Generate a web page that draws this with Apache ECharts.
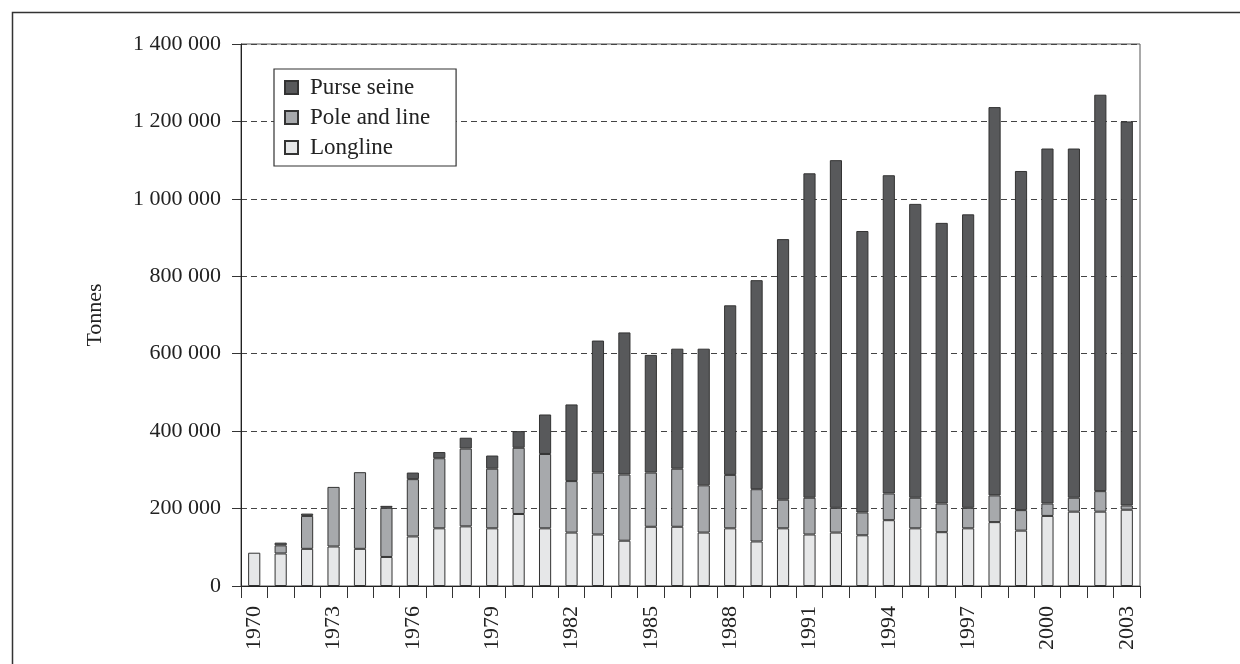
<!DOCTYPE html>
<html>
<head>
<meta charset="utf-8">
<script src="https://cdn.jsdelivr.net/npm/echarts@6/dist/echarts.min.js"></script>
<style>
html,body{margin:0;padding:0;background:#fff;}
#chart{width:1240px;height:664px;}
</style>
</head>
<body>
<div id="chart"></div>
<script>
var years = ['1970','1971','1972','1973','1974','1975','1976','1977','1978','1979','1980','1981','1982','1983','1984','1985','1986','1987','1988','1989','1990','1991','1992','1993','1994','1995','1996','1997','1998','1999','2000','2001','2002','2003'];
var longline = [86000,84000,96000,102000,96000,75000,128000,149000,154000,149000,186000,149000,138000,133000,117000,153000,153000,138000,149000,115000,149000,133000,138000,131000,170000,149000,139000,149000,165000,143000,181000,192000,192000,197000];
var poleAndLine = [0,21000,85000,154000,198000,127000,148000,181000,201000,154000,171000,192000,133000,160000,171000,140000,150000,122000,138000,135000,74000,95000,64000,59000,69000,79000,74000,53000,69000,53000,32000,36000,53000,11000];
var purseSeine = [0,7000,6000,0,0,5000,17000,16000,28000,34000,43000,102000,198000,341000,367000,304000,310000,353000,438000,540000,673000,838000,898000,727000,822000,759000,725000,758000,1003000,876000,917000,902000,1024000,992000];
var yTicks = [0,200000,400000,600000,800000,1000000,1200000,1400000];

var font = '"Liberation Serif","Times New Roman",serif';
function fmt(v){ return String(v).replace(/\B(?=(\d{3})+(?!\d))/g,' '); }

var chart = echarts.init(document.getElementById('chart'), null, {renderer:'canvas'});
function barSeries(name, data, color){
  return {
    name: name, type: 'bar', stack: 'total',
    data: data.map(function(v){ return v === 0 ? '-' : v; }),
    barWidth: '46%',
    itemStyle: {color: color, borderColor: '#333', borderWidth: 1},
    emphasis: {disabled: true}
  };
}
chart.setOption({
  animation: false,
  backgroundColor: '#fff',
  graphic: [{
    type: 'rect', left: 10, top: 10, shape: {width: 1300, height: 700},
    style: {fill: 'none', stroke: '#333', lineWidth: 1.5}, silent: true, z: -1
  }],
  grid: {left: 241, right: 100, top: 44, bottom: 78, show: true, borderColor: '#555', borderWidth: 1, backgroundColor: 'transparent'},
  legend: {
    orient: 'vertical', left: 274, top: 69,
    data: ['Purse seine','Pole and line','Longline'],
    itemWidth: 13, itemHeight: 13, itemGap: 7,
    padding: [7, 26, 7, 10],
    borderColor: '#333', borderWidth: 1.2, backgroundColor: '#fff',
    icon: 'rect',
    textStyle: {fontFamily: font, fontSize: 23, color: '#222', lineHeight: 22, padding: [0,0,0,7]}
  },
  xAxis: {
    type: 'category', data: years, boundaryGap: true,
    axisLine: {lineStyle: {color: '#222', width: 1}},
    axisTick: {show: true, length: 12, interval: 0, lineStyle: {color: '#333'}},
    axisLabel: {interval: 2, rotate: 90, margin: 20, fontFamily: font, fontSize: 22, color: '#222'}
  },
  yAxis: {
    type: 'value', min: 0, max: 1400000, interval: 200000,
    name: 'Tonnes', nameLocation: 'middle', nameRotate: 90, nameGap: 135,
    nameTextStyle: {fontFamily: font, fontSize: 22, color: '#222'},
    axisLine: {show: true, lineStyle: {color: '#222', width: 1}},
    axisTick: {show: true, length: 9, lineStyle: {color: '#333'}},
    axisLabel: {margin: 20, fontFamily: font, fontSize: 22, color: '#222',
      formatter: function(v){ return yTicks.indexOf(v) >= 0 ? fmt(v) : ''; }},
    splitLine: {show: true, lineStyle: {color: '#444', type: [6,4], width: 1}}
  },
  series: [
    barSeries('Longline', longline, '#e6e7e8'),
    barSeries('Pole and line', poleAndLine, '#a7a9ac'),
    barSeries('Purse seine', purseSeine, '#58595b')
  ]
});
</script>
</body>
</html>
